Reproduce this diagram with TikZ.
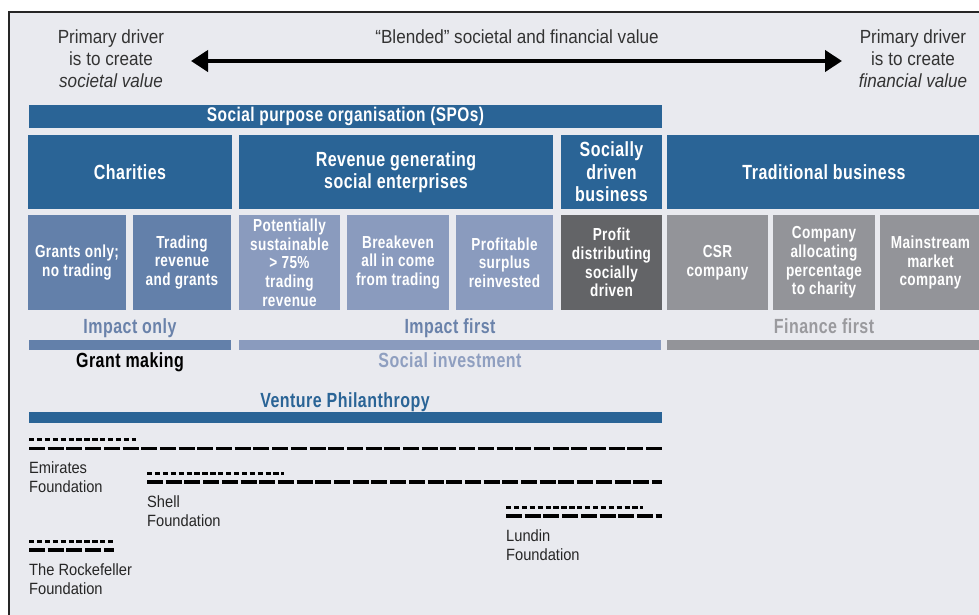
\documentclass[tikz,border=0pt]{standalone}
\usepackage{fontspec}
\setmainfont{Liberation Sans}[FakeStretch=0.9]
\newfontfamily\cb{Liberation Sans}[FakeStretch=0.78,LetterSpace=2.3]
\usetikzlibrary{arrows.meta}
\definecolor{bg}{HTML}{E9EAEF}
\definecolor{dblue}{HTML}{2A6496}
\definecolor{mblue}{HTML}{6380AA}
\definecolor{lblue}{HTML}{8A9BBE}
\definecolor{dgray}{HTML}{636467}
\definecolor{mgray}{HTML}{939499}
\definecolor{txt}{HTML}{333333}
\definecolor{imp}{HTML}{6A82AA}
\definecolor{fin}{HTML}{9A9A9E}
\definecolor{soc}{HTML}{8F9FC0}
\begin{document}
\begin{tikzpicture}[x=1pt,y=-1pt,
  box/.style={rectangle,inner sep=0pt,text=white,align=center,
    font=\cb\bfseries\fontsize{17.4}{18.7}\selectfont},
  head/.style={rectangle,inner sep=0pt,text=white,align=center,fill=dblue,
    font=\cb\bfseries\fontsize{20.5}{22.5}\selectfont},
  bar/.style={rectangle,inner sep=0pt,minimum height=10pt},
  lab/.style={inner sep=0pt,anchor=base,font=\cb\bfseries\fontsize{20.5}{22}\selectfont},
  plain/.style={inner sep=0pt,text=txt,align=center,font=\fontsize{19}{22}\selectfont},
  fnd/.style={inner sep=0pt,anchor=north west,align=left,text=black!85,font=\fontsize{16.3}{19}\selectfont},
  dotl/.style={line width=3pt,dash pattern=on 5.3pt off 2.6pt},
  dashl/.style={line width=3.1pt,dash pattern=on 16pt off 2.7pt}
]
\useasboundingbox (0,0) rectangle (979,614);
\fill[white] (0,0) rectangle (979,614);
\fill[bg] (9,12) rectangle (990,620);
\draw[line width=1.6pt,black!85] (990,12) -- (9,12) -- (9,620);

% top texts
\node[plain] (ls) at (111,59) {Primary driver\\is to create\\\textit{societal value}};
\node[plain] (rs) at (913,59) {Primary driver\\is to create\\\textit{financial value}};
\node[plain] (bl) at (517,37) {“Blended” societal and financial value};
\coordinate (al) at (191,61);
\coordinate (ar) at (842,61);
\draw[line width=4pt,{Triangle[length=17pt,width=21pt]}-{Triangle[length=17pt,width=21pt]}] (al) -- (ar);

% SPO bar
\node[head,minimum width=633pt,minimum height=23pt,font=\cb\bfseries\fontsize{19.8}{20}\selectfont] (spo) at (345.5,116.5) {Social purpose organisation (SPOs)};

% row 2
\node[head,minimum width=204pt,minimum height=74pt] (char) at (130,172) {Charities};
\node[head,minimum width=314pt,minimum height=74pt] (rev) at (396,172) {Revenue generating\\social enterprises};
\node[head,minimum width=101pt,minimum height=74pt] (sdb) at (611.5,172) {Socially\\driven\\business};
\node[head,minimum width=314pt,minimum height=74pt] (trad) at (824,172) {Traditional business};

% row 3
\node[box,fill=mblue,minimum width=98pt,minimum height=95pt] (b1) at (77,262.5) {Grants only;\\no trading};
\node[box,fill=mblue,minimum width=98pt,minimum height=95pt] (b2) at (182,262.5) {Trading\\revenue\\and grants};
\node[box,fill=lblue,minimum width=101pt,minimum height=95pt] (b3) at (289.5,262.5) {Potentially\\sustainable\\> 75\%\\trading\\revenue};
\node[box,fill=lblue,minimum width=102pt,minimum height=95pt] (b4) at (398,262.5) {Breakeven\\all in come\\from trading};
\node[box,fill=lblue,minimum width=97pt,minimum height=95pt] (b5) at (504.5,262.5) {Profitable\\surplus\\reinvested};
\node[box,fill=dgray,minimum width=101pt,minimum height=95pt] (b6) at (611.5,262.5) {Profit\\distributing\\socially\\driven};
\node[box,fill=mgray,minimum width=101pt,minimum height=95pt] (b7) at (717.5,262.5) {CSR\\company};
\node[box,fill=mgray,minimum width=102pt,minimum height=95pt] (b8) at (824,262.5) {Company\\allocating\\percentage\\to charity};
\node[box,fill=mgray,minimum width=101pt,minimum height=95pt] (b9) at (930.5,262.5) {Mainstream\\market\\company};

% labels
\node[lab,text=imp] (io) at (130,333) {Impact only};
\node[lab,text=imp] (if) at (450,333) {Impact first};
\node[lab,text=fin] (ff) at (824,333) {Finance first};
\node[bar,fill=mblue,minimum width=202pt] (bar1) at (130,345) {};
\node[bar,fill=lblue,minimum width=422pt] (bar2) at (450,345) {};
\node[bar,fill=mgray,minimum width=318pt] (bar3) at (826,345) {};
\node[lab,text=black] (gm) at (130,367) {Grant making};
\node[lab,text=soc] (si) at (450,367) {Social investment};
\node[lab,text=dblue] (vp) at (345,407.5) {Venture Philanthropy};
\node[bar,fill=dblue,minimum width=633pt,minimum height=11pt] (vpbar) at (345.5,417.5) {};

% foundations
\coordinate (e1) at (29,439); \coordinate (e2) at (136,439);
\coordinate (e3) at (29,448.5); \coordinate (e4) at (662,448.5);
\draw[dotl] (e1) -- (e2);
\draw[dashl] (e3) -- (e4);
\node[fnd] (emi) at (29,461) {Emirates\\Foundation};

\coordinate (s1) at (147,473); \coordinate (s2) at (284,473);
\coordinate (s3) at (147,482); \coordinate (s4) at (662,482);
\draw[dotl] (s1) -- (s2);
\draw[dashl] (s3) -- (s4);
\node[fnd] (she) at (147,495) {Shell\\Foundation};

\coordinate (r1) at (29,541); \coordinate (r2) at (114,541);
\coordinate (r3) at (29,550); \coordinate (r4) at (114,550);
\draw[dotl] (r1) -- (r2);
\draw[dashl] (r3) -- (r4);
\node[fnd] (roc) at (29,563) {The Rockefeller\\Foundation};

\coordinate (l1) at (506,507); \coordinate (l2) at (643,507);
\coordinate (l3) at (506,516); \coordinate (l4) at (662,516);
\draw[dotl] (l1) -- (l2);
\draw[dashl] (l3) -- (l4);
\node[fnd] (lun) at (506,529) {Lundin\\Foundation};
\end{tikzpicture}
\end{document}
